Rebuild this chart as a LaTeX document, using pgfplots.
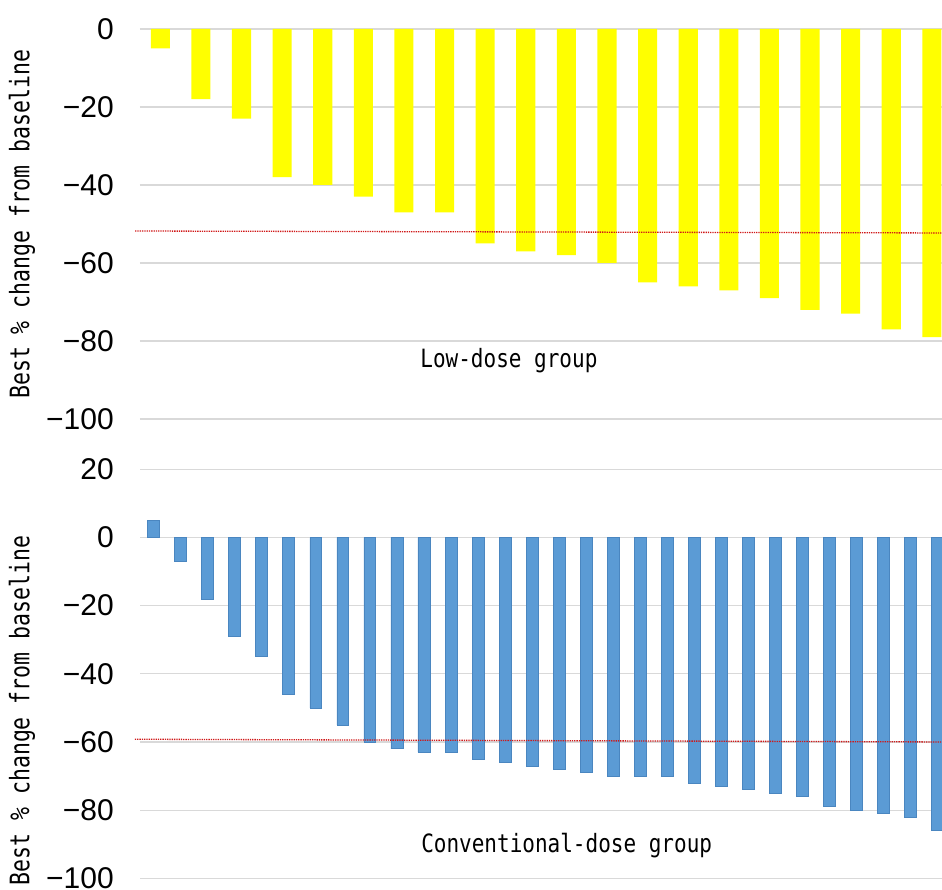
\documentclass[border=0pt]{standalone}
\usepackage{pgfplots}
\usepackage{pgfplotstable}
\pgfplotsset{compat=1.18}
\usepackage{fontspec}
\setmainfont{Liberation Sans}
\setmonofont{DejaVu Sans Mono}
\definecolor{ybarc}{HTML}{FFFF00}
\definecolor{bbarc}{HTML}{5B9BD5}
\definecolor{bedge}{HTML}{4A86C0}
\definecolor{gridc}{HTML}{D9D9D9}
\definecolor{refred}{HTML}{D01818}

\pgfplotstableread{
i v
1 -5
2 -18
3 -23
4 -38
5 -40
6 -43
7 -47
8 -47
9 -55
10 -57
11 -58
12 -60
13 -65
14 -66
15 -67
16 -69
17 -72
18 -73
19 -77
20 -79
}\lowdose

\pgfplotstableread{
i v
1 5
2 -7
3 -18
4 -29
5 -35
6 -46
7 -50
8 -55
9 -60
10 -62
11 -63
12 -63
13 -65
14 -66
15 -67
16 -68
17 -69
18 -70
19 -70
20 -70
21 -72
22 -73
23 -74
24 -75
25 -76
26 -79
27 -80
28 -81
29 -82
30 -86
}\convdose

\pgfplotsset{
  wfall/.style={
    scale only axis, anchor=south west, clip=false,
    axis line style={draw=none}, xtick=\empty, tick style={draw=none},
    ymajorgrids, grid style={gridc, line width=1.2pt},
    yticklabel style={font=\fontsize{30}{30}\selectfont, inner sep=0pt, xshift=-26pt},
    ylabel style={font=\fontsize{21.5}{22}\ttfamily, anchor=center},
  }
}

\begin{document}
\begin{tikzpicture}[x=1pt,y=1pt]
\path[use as bounding box] (0,0) rectangle (942,889);
\begin{axis}[wfall,
  at={(140pt,470pt)}, width=802pt, height=390pt,
  xmin=0.5, xmax=20.25, ymin=-100, ymax=0,
  ytick={-100,-80,-60,-40,-20,0},
  yticklabels={−100,−80,−60,−40,−20,0},
  ylabel={\scalebox{1}[1.25]{Best \% change from baseline}},
  ylabel style={at={(axis description cs:-0.147,0.5)}},
]
\addplot[ybar, bar width=0.47, fill=ybarc, draw=none] table[x=i,y=v]{\lowdose};
\addplot[refred, densely dotted, line width=1.3pt] coordinates {(0.38,-51.8) (20.25,-52.3)};
\node[font=\fontsize{21}{21}\ttfamily] at (axis description cs:0.46,0.149) {\scalebox{1}[1.2]{Low-dose group}};
\end{axis}
\begin{axis}[wfall,
  at={(140pt,10.7pt)}, width=802pt, height=409pt,
  xmin=0.5, xmax=30.16, ymin=-100, ymax=20,
  ytick={-100,-80,-60,-40,-20,0,20},
  yticklabels={−100,−80,−60,−40,−20,0,20},
  ylabel={\scalebox{1}[1.25]{Best \% change from baseline}},
  ylabel style={at={(axis description cs:-0.147,0.41)}},
]
\addplot[ybar, bar width=0.44, fill=bbarc, draw=bedge, line width=0.6pt] table[x=i,y=v]{\convdose};
\addplot[refred, densely dotted, line width=1.3pt] coordinates {(0.31,-59.2) (30.16,-60)};
\node[font=\fontsize{21}{21}\ttfamily] at (axis description cs:0.532,0.081) {\scalebox{1}[1.2]{Conventional-dose group}};
\end{axis}
\end{tikzpicture}
\end{document}
